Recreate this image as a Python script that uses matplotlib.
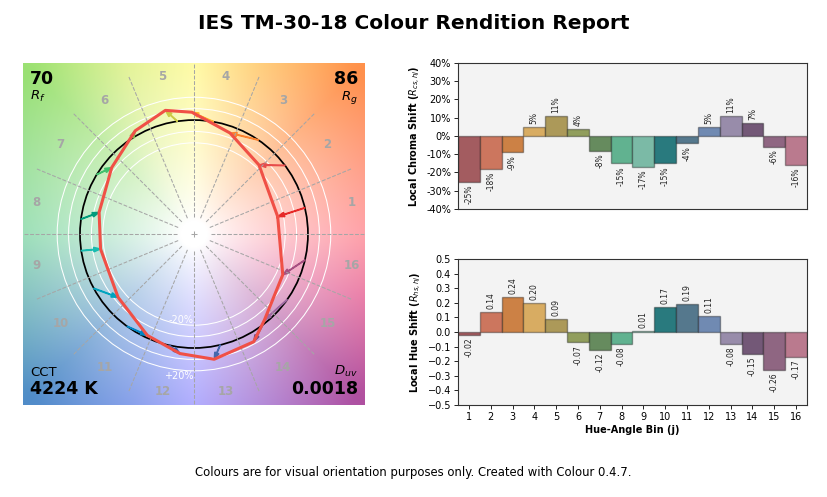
"""
plot.py
-------
IES TM-30-18 colour rendition report (simple layout) drawn with Matplotlib.
"""

from __future__ import annotations

import numpy as np
import matplotlib

matplotlib.use("Agg")
import matplotlib.pyplot as plt


# --- report values -----------------------------------------------------------
R_F = 70
R_G = 86
CCT = 4224
D_UV = 0.0018

BINS = list(range(1, 17))

# local chroma shift R_cs,hj (fraction) and local hue shift R_hs,hj
CHROMA_SHIFT = [-0.25, -0.18, -0.09, 0.05, 0.11, 0.04, -0.08, -0.15,
                -0.17, -0.15, -0.04, 0.05, 0.11, 0.07, -0.06, -0.16]
HUE_SHIFT = [-0.02, 0.14, 0.24, 0.20, 0.09, -0.07, -0.12, -0.08,
             0.01, 0.17, 0.19, 0.11, -0.08, -0.15, -0.26, -0.17]

# average reference hue angle of each bin, degrees
BIN_HUES = [13.3, 37.0, 55.6, 80.2, 98.4, 123.5, 148.5, 172.5,
            188.4, 208.5, 234.1, 257.3, 283.3, 307.0, 324.8, 346.8]

BAR_COLOURS = ["#A35C60", "#CC765E", "#CC8145", "#D8AC62", "#AC9959", "#919E5D",
               "#668B5E", "#61B290", "#7BBAA6", "#297A7E", "#55788D", "#708AB2",
               "#988CAA", "#735877", "#8F6682", "#BA7A8E"]
ARROW_COLOURS = ["#E62828", "#E74B4B", "#FB812E", "#FFB529", "#CBCA46", "#7EB94C",
                 "#41C06D", "#009C7C", "#16BCB0", "#00A4BF", "#0085C3", "#3B62AA",
                 "#4568AE", "#6A4E85", "#9D69A1", "#A74F81"]

# hue wheel anchors for the backdrop (angle in degrees -> rgb)
BACKDROP_ANGLES = [0, 45, 70, 90, 112, 135, 180, 225, 250, 270, 315, 340, 360]
BACKDROP_RGB = [(255, 135, 145), (255, 145, 75), (255, 200, 100), (255, 250, 140),
                (220, 240, 130), (155, 225, 115), (130, 215, 165), (80, 140, 200),
                (110, 140, 230), (155, 150, 255), (175, 80, 160), (230, 100, 150),
                (255, 135, 145)]


def backdrop(n: int = 400) -> np.ndarray:
    v = np.linspace(-1.5, 1.5, n)
    x, y = np.meshgrid(v, v[::-1])
    ang = np.degrees(np.arctan2(y, x)) % 360
    r = np.hypot(x, y)
    rgb = np.asarray(BACKDROP_RGB, dtype=float) / 255
    hue = np.stack([np.interp(ang, BACKDROP_ANGLES, rgb[:, k]) for k in range(3)], axis=-1)
    s = np.clip((r - 0.12) / 1.9, 0, 1) ** 0.8
    return 1 - s[..., None] * (1 - hue)


def plot_vector_graphic(ax: plt.Axes) -> None:
    ax.imshow(backdrop(), extent=(-1.5, 1.5, -1.5, 1.5), interpolation="bilinear")
    ax.axis("off")

    ax.plot(0, 0, "+", color="#A6A6A6", ms=4, mew=0.75)
    for i in range(16):
        a = 2 * np.pi * i / 16
        ax.plot((0.15 * np.cos(a), 1.5 * np.cos(a)), (0.15 * np.sin(a), 1.5 * np.sin(a)),
                "--", color="#A6A6A6", lw=0.75)
        a = 2 * np.pi * (i + 0.5) / 16
        ax.text(1.41 * np.cos(a), 1.41 * np.sin(a), str(i + 1), color="#A6A6A6",
                ha="center", va="center", weight="bold", size=8.5)

    ax.add_artist(plt.Circle((0, 0), 1, color="black", lw=1.25, fill=False))
    for radius in (0.8, 0.9, 1.1, 1.2):
        ax.add_artist(plt.Circle((0, 0), radius, color="white", lw=0.75, fill=False))

    ax.text(0, -0.8, "-20%", ha="right", va="bottom", color="white", size=7)
    ax.text(0, -1.2, "+20%", ha="right", va="top", color="white", size=7)

    h = np.radians(BIN_HUES)
    cs = np.asarray(CHROMA_SHIFT)
    hs = np.asarray(HUE_SHIFT)
    ref = np.column_stack([np.cos(h), np.sin(h)])
    # radial part = chroma shift, tangential part = hue shift
    offsets = cs[:, None] * ref + hs[:, None] * np.column_stack([-np.sin(h), np.cos(h)])
    test = ref + offsets

    for i in range(16):
        ax.arrow(ref[i, 0], ref[i, 1], offsets[i, 0], offsets[i, 1],
                 length_includes_head=True, width=0.005, head_width=0.04,
                 color=ARROW_COLOURS[i])

    loop = np.vstack([test, test[:1]])
    ax.plot(loop[:, 0], loop[:, 1], "-", color="#F05046", lw=2.2)

    def corner(label: str, text: str, ha: str, va: str) -> None:
        x = -1.44 if ha == "left" else 1.44
        y = 1.44 if va == "top" else -1.44
        dy = -14 if va == "top" else 14
        ax.annotate(text, xy=(x, y), ha=ha, va=va, weight="bold", size=12.5, color="black")
        ax.annotate(label, xy=(x, y), xytext=(0, dy), textcoords="offset points",
                    ha=ha, va=va, size=9.5, color="black")

    corner("$R_f$", f"{R_F:.0f}", "left", "top")
    corner("$R_g$", f"{R_G:.0f}", "right", "top")
    corner("CCT", f"{CCT:.0f} K", "left", "bottom")
    corner("$D_{uv}$", f"{D_UV:.4f}", "right", "bottom")

    ax.set_xlim(-1.5, 1.5)
    ax.set_ylim(-1.5, 1.5)


def plot_bin_bars(ax: plt.Axes, values, fmt: str, x_ticker: bool) -> None:
    ax.set_facecolor("#F3F3F3")
    ax.bar(BINS, values, width=1, color=BAR_COLOURS,
           edgecolor=(0, 0, 0, 0.35), linewidth=1)
    ax.set_xlim(0.5, 16.5)
    for x, v in zip(BINS, values):
        ax.annotate(fmt.format(v), xy=(x, v), xytext=(0, 2 if v >= 0 else -2),
                    textcoords="offset points", rotation=90, ha="center",
                    va="bottom" if v >= 0 else "top", size=5.5, color="#222222")
    if x_ticker:
        ax.set_xticks(BINS)
        ax.set_xlabel("Hue-Angle Bin (j)", weight="bold", size=7, labelpad=2)
    else:
        ax.set_xticks([])
    for sp in ax.spines.values():
        sp.set_color("#333333")
        sp.set_linewidth(0.8)
    ax.tick_params(labelsize=7, length=3, width=0.6, pad=2)


def main() -> None:
    fig = plt.figure(figsize=(8.27, 4.97), dpi=100)
    fig.text(0.5, 0.952, "IES TM-30-18 Colour Rendition Report",
             ha="center", va="center", weight="bold", size=14.5)

    ax_cvg = fig.add_axes([0.0278, 0.1851, 0.4135, 0.688])
    plot_vector_graphic(ax_cvg)

    ax_cs = fig.add_axes([0.5538, 0.5795, 0.422, 0.2938])
    plot_bin_bars(ax_cs, [v * 100 for v in CHROMA_SHIFT], "{:.0f}%", False)
    ax_cs.set_ylim(-40, 40)
    ticks = np.arange(-40, 41, 10)
    ax_cs.set_yticks(ticks)
    ax_cs.set_yticklabels([f"{t}%" for t in ticks])
    ax_cs.set_ylabel("Local Chroma Shift ($R_{cs,hj}$)", weight="bold", size=7, labelpad=3)

    ax_hs = fig.add_axes([0.5538, 0.1851, 0.422, 0.2938])
    plot_bin_bars(ax_hs, HUE_SHIFT, "{:.2f}", True)
    ax_hs.set_ylim(-0.5, 0.5)
    ax_hs.set_yticks(np.round(np.arange(-0.5, 0.51, 0.1), 1))
    ax_hs.set_ylabel("Local Hue Shift ($R_{hs,hj}$)", weight="bold", size=7, labelpad=3)

    fig.text(0.5, 0.050, "Colours are for visual orientation purposes only. "
             "Created with Colour 0.4.7.", ha="center", va="center", size=8.4)

    fig.savefig("out.png", dpi=100)
    plt.close(fig)


if __name__ == "__main__":
    main()
